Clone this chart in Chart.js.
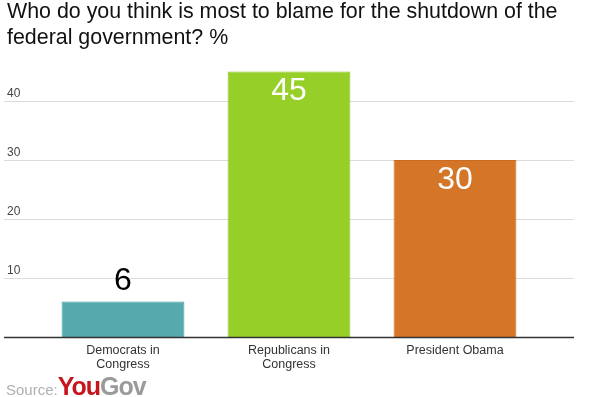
<!DOCTYPE html>
<html>
<head>
<meta charset="utf-8">
<script src="https://cdn.jsdelivr.net/npm/chart.js@4"></script>
<style>
  html, body { margin: 0; padding: 0; background: #fff; }
  #wrap { position: relative; width: 596px; height: 397px; overflow: hidden; font-family: "Liberation Sans", Arial, sans-serif; }
  #title { position: absolute; left: 7px; top: -2px; font-size: 21.4px; line-height: 26px; color: #111; white-space: nowrap; }
  #source { position: absolute; left: 6px; top: 372px; white-space: nowrap; }
  #source .s { font-size: 15px; color: #b0b0b0; }
  #source .you { font-size: 25px; font-weight: bold; color: #c4161c; letter-spacing: -1px; }
  #source .gov { font-size: 25px; font-weight: bold; color: #9a9a9a; letter-spacing: -1px; }
  canvas { position: absolute; left: 0; top: 0; }
</style>
</head>
<body>
<div id="wrap">
  <canvas id="myChart" width="596" height="397"></canvas>
  <div id="title">Who do you think is most to blame for the shutdown of the<br>federal government? %</div>
  <div id="source"><span class="s">Source:</span><span class="you">You</span><span class="gov">Gov</span></div>
</div>
<script>
//---------------DATA-------------
let categories = [["Democrats in", "Congress"], ["Republicans in", "Congress"], ["President Obama"]];
let blameValues = [6, 45, 30];
let barColors = ["#55aaae", "#96cf27", "#d57527"];
let borderColors = ["#4a9ca0", "#8cc322", "#c96c22"];
let yTicks = [10, 20, 30, 40];

//------------------- PLUGINS --------------------
// grid lines run the full width of the picture, labels sit above them on the left
let gridPlugin = {
  id: "fullGrid",
  beforeDatasetsDraw(chart) {
    let ctx = chart.ctx, y = chart.scales.y;
    ctx.save();
    ctx.lineWidth = 1;
    ctx.strokeStyle = "#dcdcdc";
    ctx.fillStyle = "#444";
    ctx.font = "12px 'Liberation Sans', Arial, sans-serif";
    ctx.textAlign = "left";
    ctx.textBaseline = "bottom";
    yTicks.forEach((v) => {
      let py = Math.round(y.getPixelForValue(v)) + 0.5;
      ctx.beginPath();
      ctx.moveTo(4, py);
      ctx.lineTo(574, py);
      ctx.stroke();
      ctx.fillText(String(v), 7, py - 2);
    });
    ctx.restore();
  },
  afterDatasetsDraw(chart) {
    let ctx = chart.ctx, y = chart.scales.y;
    ctx.save();
    let py = Math.round(y.getPixelForValue(0)) + 0.5;
    ctx.strokeStyle = "#333";
    ctx.lineWidth = 1.5;
    ctx.beginPath();
    ctx.moveTo(4, py);
    ctx.lineTo(574, py);
    ctx.stroke();
    // value labels
    ctx.font = "32px 'Liberation Sans', Arial, sans-serif";
    ctx.textAlign = "center";
    ctx.textBaseline = "middle";
    chart.getDatasetMeta(0).data.forEach((bar, i) => {
      let v = blameValues[i];
      if (v < 10) {
        ctx.fillStyle = "#000";
        ctx.fillText(String(v), bar.x, bar.y - 20);
      } else {
        ctx.fillStyle = "#fff";
        ctx.fillText(String(v), bar.x, bar.y + 20);
      }
    });
    ctx.restore();
  }
};

//------------------- CHARTING--------------------
let ctx = document.getElementById("myChart").getContext("2d");
let myChart = new Chart(ctx, {
  type: "bar",
  data: {
    labels: categories,
    datasets: [
      {
        data: blameValues,
        backgroundColor: barColors,
        borderColor: borderColors,
        borderWidth: 1,
        barPercentage: 0.74,
        categoryPercentage: 1
      }
    ]
  },
  options: {
    responsive: false,
    animation: false,
    layout: { padding: { left: 40, right: 58, top: 42, bottom: 15 } },
    plugins: { legend: { display: false }, tooltip: { enabled: false } },
    scales: {
      x: {
        grid: { display: false, drawTicks: false },
        border: { display: false },
        afterFit: (s) => { s.height = 45; },
        ticks: {
          color: "#333",
          padding: 6,
          font: { family: "'Liberation Sans', Arial, sans-serif", size: 12.5, lineHeight: 1.15 }
        }
      },
      y: {
        display: false,
        min: 0,
        max: 50
      }
    }
  },
  plugins: [gridPlugin]
});
</script>
</body>
</html>
